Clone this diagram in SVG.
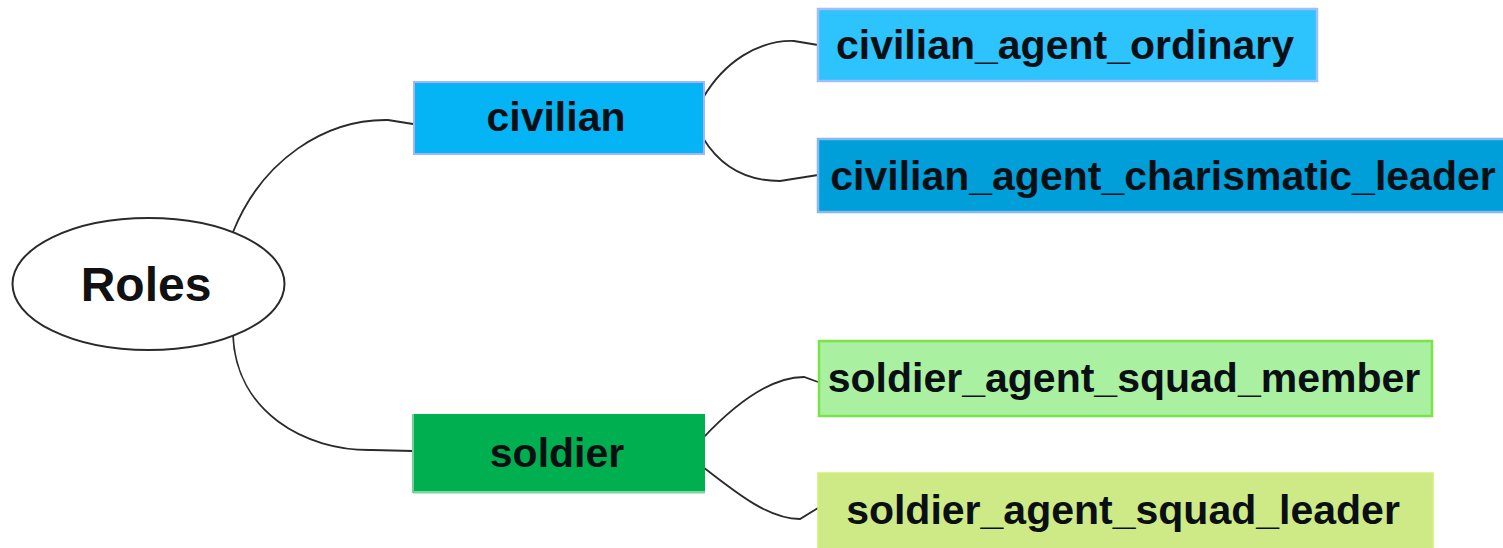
<svg xmlns="http://www.w3.org/2000/svg" width="1503" height="548" viewBox="0 0 1503 548">
  <style>
    .lbl { font-family: "Liberation Sans", Arial, sans-serif; font-weight: bold; font-size: 41px; fill: #0a0f14; text-anchor: middle; }
    .root { font-family: "Liberation Sans", Arial, sans-serif; font-weight: bold; font-size: 48px; fill: #111; text-anchor: middle; }
    .link { fill: none; stroke: #2a2a2a; stroke-width: 1.8; }
  </style>
  <rect width="1503" height="548" fill="#ffffff"/>

  <!-- connectors -->
  <g id="connectors">
    <path class="link" d="M233,232 C262,160 325,119 388,120 L413,124"/>
    <path class="link" d="M233,335 C236,412 305,451 372,450 L413,451"/>
    <path class="link" d="M703,98 C724,62 758,40 794,41 L818,45"/>
    <path class="link" d="M703,138 C720,166 746,181 780,181 L818,175"/>
    <path class="link" d="M703,438 C735,404 770,377 804,377 L818,382"/>
    <path class="link" d="M703,467 C740,496 770,519 800,519 L818,508"/>
  </g>

  <!-- root -->
  <g id="roles">
    <ellipse cx="148.5" cy="284" rx="136" ry="66" fill="#ffffff" stroke="#2a2a2a" stroke-width="2"/>
    <text class="root" x="146" y="301">Roles</text>
  </g>

  <!-- civilian branch -->
  <g id="civilian">
    <rect x="414" y="82" width="290" height="72" fill="#04b4f4" stroke="#a3b5f7" stroke-width="2"/>
    <text class="lbl" x="556" y="131">civilian</text>
  </g>
  <g id="civilian_agent_ordinary">
    <rect x="818" y="9" width="499" height="72" fill="#2dc3fd" stroke="#9ebefc" stroke-width="2.5"/>
    <text class="lbl" x="1065" y="59">civilian_agent_ordinary</text>
  </g>
  <g id="civilian_agent_charismatic_leader">
    <rect x="818" y="139" width="690" height="73" fill="#009fda" stroke="#86b9f2" stroke-width="2.5"/>
    <text class="lbl" x="1163" y="190">civilian_agent_charismatic_leader</text>
  </g>

  <!-- soldier branch -->
  <g id="soldier">
    <rect x="413" y="414" width="292" height="79" fill="#00af4f"/>
    <rect x="413" y="491" width="292" height="2.5" fill="#7cd6a0"/>
    <rect x="412" y="414" width="2" height="79" fill="#6fd197"/>
    <text class="lbl" x="557" y="467">soldier</text>
  </g>
  <g id="soldier_agent_squad_member">
    <rect x="819" y="341" width="613" height="75" fill="#a9f1a1" stroke="#7ae348" stroke-width="2.5"/>
    <text class="lbl" x="1124" y="392">soldier_agent_squad_member</text>
  </g>
  <g id="soldier_agent_squad_leader">
    <rect x="818" y="473" width="615" height="76" fill="#cdea86" stroke="#d3ef72" stroke-width="1.5"/>
    <text class="lbl" x="1123" y="524">soldier_agent_squad_leader</text>
  </g>
</svg>
